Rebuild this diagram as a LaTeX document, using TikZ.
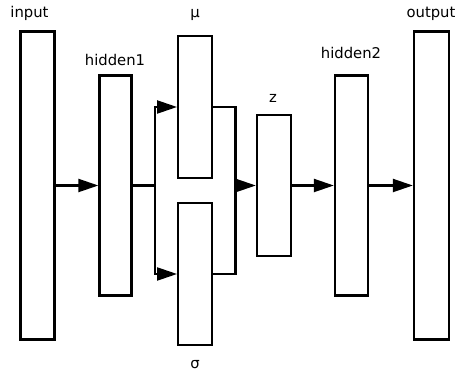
\documentclass[tikz,border=0pt]{standalone}
\usepackage{fontspec}
\setmainfont{DejaVu Sans}
\usetikzlibrary{arrows.meta}
\begin{document}
\begin{tikzpicture}[x=1pt,y=-1pt,
  box/.style={draw=black,line width=2.3pt,fill=white,inner sep=0pt},
  lbl/.style={anchor=base,inner sep=0pt,font=\fontsize{14.8}{16}\selectfont},
  wire/.style={draw=black,line width=2.2pt},
  arr/.style={wire,-{Triangle[length=20pt,width=13pt]}}]
\useasboundingbox (0,0) rectangle (458,374);
\node[box,minimum width=34pt,minimum height=308pt] (in) at (37.5,185.5) {};
\node[box,minimum width=32pt,minimum height=220pt] (h1) at (115.5,185.5) {};
\node[box,minimum width=34pt,minimum height=142pt] (mu) at (195.2,107) {};
\node[box,minimum width=34pt,minimum height=142pt] (sig) at (195.2,274) {};
\node[box,minimum width=34pt,minimum height=141pt] (z) at (274,185.5) {};
\node[box,minimum width=33pt,minimum height=220pt] (h2) at (351.5,185.5) {};
\node[box,minimum width=35pt,minimum height=308pt] (out) at (431.5,185.5) {};
\node[lbl] (lin) at (29.5,18) {input};
\node[lbl] (lh1) at (115,66) {hidden1};
\node[lbl] (lmu) at (195,18) {μ};
\node[lbl] (lsig) at (195,368) {σ};
\node[lbl] (lz) at (273,103) {z};
\node[lbl] (lh2) at (351,58.5) {hidden2};
\node[lbl] (lout) at (431,18) {output};
\coordinate (s) at (155,185.5);
\coordinate (m) at (235.5,185.5);
\draw[arr] (in.east) -- (h1.west);
\draw[wire] (h1.east) -- (s);
\draw[arr] (s) |- (mu.west);
\draw[arr] (s) |- (sig.west);
\draw[wire] (mu.east) -| (m);
\draw[wire] (sig.east) -| (m);
\draw[arr] (m) -- (z.west);
\draw[arr] (z.east) -- (h2.west);
\draw[arr] (h2.east) -- (out.west);
\end{tikzpicture}
\end{document}
